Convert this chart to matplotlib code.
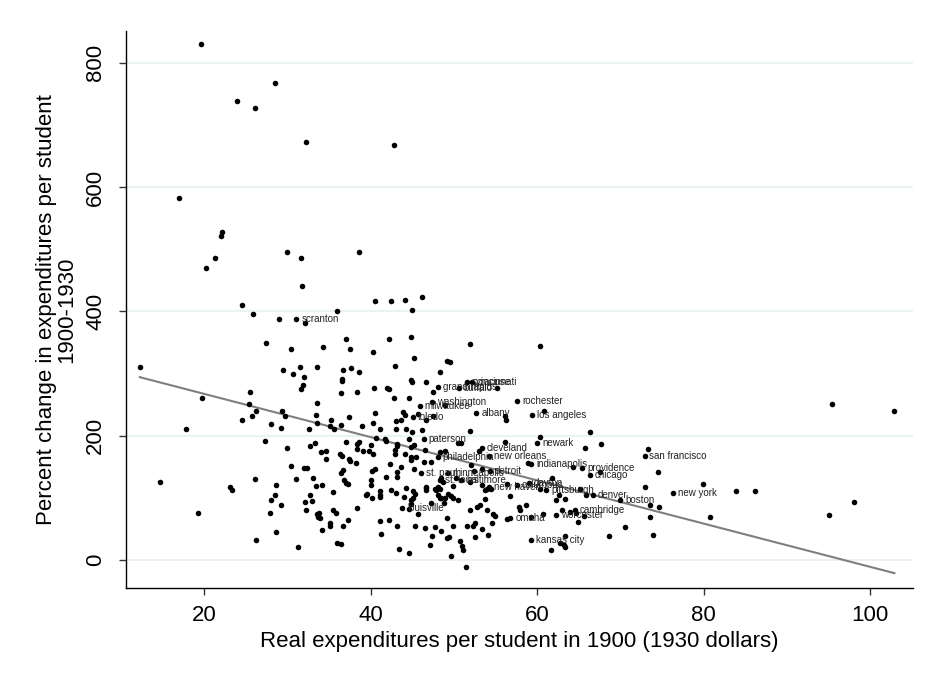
import numpy as np
import matplotlib
matplotlib.use("Agg")
import matplotlib.pyplot as plt

plt.rcParams["font.family"] = ["Liberation Sans", "DejaVu Sans"]

# unlabeled cities: real expenditures 1900 (x) and percent change 1900-1930 (y)
x_vals = [
    19.7, 28.5, 24.0, 26.1, 32.2, 42.8, 17.0, 22.2, 22.0, 21.3, 20.2, 30.0, 31.6, 38.6,
    31.8, 24.6, 25.9, 29.0, 32.1, 27.4, 30.4, 12.3, 29.5, 31.5, 33.6, 30.7, 32.0, 31.9,
    31.7, 25.5, 19.8, 25.4, 26.2, 25.8, 24.6, 29.4, 29.7, 33.6, 33.5, 33.6, 28.1, 29.3,
    32.6, 17.8, 27.3, 30.0, 32.7, 33.3, 30.5, 32.0, 32.4, 14.7, 26.1, 31.1, 33.1, 33.4,
    23.1, 23.4, 28.7, 28.5, 28.1, 29.3, 32.7, 33.0, 32.1, 32.3, 33.6, 33.7, 19.3, 27.9,
    28.7, 26.3, 31.3,
    36.0, 40.5, 42.4, 44.1, 46.2, 45.0, 37.0, 42.2, 44.8, 34.3, 37.5, 40.3, 45.2, 42.9,
    36.7, 37.7, 38.6, 48.3, 49.2, 36.6, 36.6, 44.9, 45.0, 46.6, 36.4, 38.4, 40.4, 42.0,
    42.2, 47.5, 42.8, 44.6, 48.9, 37.4, 40.5, 43.9, 44.1, 47.5, 35.2,
    45.7, 46.6, 35.1, 35.6, 36.4, 39.0, 40.3, 41.1, 43.0, 43.1, 43.6, 44.3, 45.0, 46.2,
    34.0, 34.6, 34.7, 37.0, 38.6, 38.4, 38.4, 39.1, 39.8, 40.0, 40.3, 40.6, 41.7, 41.8,
    43.2, 43.2, 42.9, 42.9, 44.1, 44.6, 44.9, 45.2, 46.5, 44.8, 44.9, 45.5, 46.4, 47.2,
    48.3, 48.9, 37.4, 37.5, 36.3, 36.6, 38.2, 42.3, 36.4, 36.7, 40.2, 40.5, 43.2, 43.2,
    43.7, 45.2, 36.8, 37.0, 37.3, 40.1, 40.0, 41.8, 34.2, 35.5, 39.4, 39.6, 41.1, 41.1,
    41.1, 40.2, 42.5, 43.1, 44.3, 44.0, 45.1, 45.3, 44.8, 45.1, 44.9, 46.6, 46.6, 46.7,
    47.7, 48.1, 47.8, 48.5, 48.8, 47.2, 33.8, 33.9, 35.5, 35.8, 35.1, 35.1, 38.4, 37.3,
    36.7, 34.2, 41.1, 42.2, 43.2, 41.2, 44.6, 45.7, 45.3, 46.5, 47.7, 47.4, 48.5, 47.1,
    49.2, 36.0, 36.4, 43.4, 44.6, 49.2,
    51.9, 60.4, 49.5, 55.2, 60.8,
    56.2, 56.3, 52.0, 66.3, 60.4, 65.8, 56.1, 53.0, 50.5, 50.9, 58.9, 64.3, 67.7, 67.6,
    52.1, 52.4, 53.4, 48.5, 48.7, 50.3, 52.0, 53.4, 53.7, 54.0, 54.5, 56.4, 61.8, 60.4,
    56.8, 53.7, 52.8, 53.1, 52.0, 54.0, 54.7, 54.9, 54.6, 57.8, 57.9, 58.7, 56.4, 59.3,
    60.7, 62.3, 62.6, 63.4, 63.0, 64.0, 64.7, 65.1, 65.9, 65.6, 64.9, 49.9, 49.4, 50.8,
    51.0, 51.1, 49.7, 51.5, 51.6, 52.3, 52.6, 53.4, 52.5, 54.1, 63.4, 62.8, 63.2, 63.3,
    61.7, 48.1, 48.3, 48.9, 49.3, 49.7, 49.9, 50.5, 49.9, 48.4,
    95.4, 102.9, 73.3, 74.5, 72.9, 79.9, 83.9, 86.1, 73.5, 74.6, 73.6, 80.7, 98.0, 95.1,
    70.5, 68.6, 73.9,
]
y_vals = [
    830, 768, 739, 727, 673, 668, 583, 528, 522, 486, 470, 495, 486, 495,
    441, 411, 396, 387, 382, 349, 340, 311, 306, 311, 311, 299, 295, 281,
    275, 271, 260, 251, 240, 232, 225, 240, 231, 252, 233, 221, 219, 212,
    211, 211, 192, 181, 183, 188, 151, 148, 148, 126, 131, 130, 132, 119,
    117, 112, 120, 104, 97, 89, 104, 95, 93, 80, 74, 69, 75, 76,
    45, 32, 21,
    401, 416, 416, 419, 423, 402, 356, 356, 358, 343, 340, 335, 325, 312,
    305, 309, 302, 303, 320, 291, 288, 290, 287, 287, 268, 270, 276, 277,
    275, 270, 260, 261, 250, 230, 236, 238, 233, 231, 226,
    235, 225, 216, 210, 218, 216, 220, 211, 224, 211, 225, 211, 206, 209,
    173, 176, 162, 190, 190, 186, 179, 176, 176, 185, 170, 196, 195, 191,
    187, 184, 177, 170, 170, 194, 182, 185, 177, 165, 161, 165, 157, 157,
    173, 175, 163, 160, 170, 168, 156, 154, 140, 145, 144, 147, 141, 134,
    150, 147, 129, 124, 123, 128, 121, 133, 120, 110, 105, 107, 111, 104,
    101, 100, 112, 108, 116, 101, 111, 107, 96, 100, 90, 116, 112, 118,
    114, 117, 112, 99, 91, 92, 76, 68, 80, 75, 60, 55, 83, 65,
    55, 49, 63, 65, 55, 42, 82, 74, 55, 51, 53, 39, 47, 24,
    36, 28, 25, 18, 11, 67,
    348, 345, 319, 277, 239,
    231, 226, 208, 206, 198, 180, 190, 175, 188, 188, 156, 150, 187, 141,
    153, 144, 146, 132, 126, 132, 126, 120, 112, 114, 115, 123, 132, 114,
    103, 98, 85, 89, 80, 80, 74, 71, 60, 85, 81, 88, 66, 70,
    74, 96, 104, 98, 81, 77, 76, 114, 104, 71, 61, 54, 37, 31,
    23, 16, 7, -11, 54, 54, 60, 50, 37, 40, 39, 27, 24, 21,
    16, 105, 100, 99, 106, 103, 99, 97, 119, 115,
    251, 239, 178, 142, 117, 122, 111, 111, 88, 85, 69, 69, 94, 73,
    53, 38, 40,
]

# labeled cities
city_names = ["scranton", "syracuse", "cincinnati", "buffalo", "grand rapids",
              "washington", "milwaukee", "rochester", "albany", "los angeles",
              "toledo", "paterson", "newark", "cleveland", "philadelphia",
              "new orleans", "indianapolis", "providence", "chicago", "san francisco",
              "st. paul", "minneapolis", "detroit", "st. louis", "baltimore",
              "new haven", "dayton", "columbus", "pittsburgh", "denver",
              "boston", "new york", "cambridge", "worcester", "omaha",
              "kansas city", "louisville"]
city_x = [31.1, 51.6, 52.2, 50.6, 48.1,
          47.4, 45.9, 57.6, 52.7, 59.4,
          45.1, 46.4, 60.0, 53.4, 48.1,
          54.2, 59.3, 65.4, 66.3, 72.9,
          46.1, 49.3, 54.3, 48.3, 50.9,
          54.2, 59.0, 57.6, 61.1, 66.7,
          70.0, 76.3, 64.5, 62.3, 56.8,
          59.3, 43.8]
city_y = [388, 287, 287, 276, 279,
          254, 248, 256, 237, 234,
          230, 195, 189, 180, 165,
          167, 154, 148, 137, 168,
          140, 140, 144, 128, 128,
          118, 124, 120, 112, 105,
          96, 108, 81, 73, 67,
          32, 83]

# fitted line
fit_intercept = 337.0
fit_slope = -3.48

fig = plt.figure(figsize=(9.26, 6.79), dpi=100)
ax = fig.add_axes([0.1357, 0.134, 0.85, 0.8203])

ax.scatter(x_vals, y_vals, s=16, color="black", linewidths=0, zorder=3)
ax.scatter(city_x, city_y, s=16, color="black", linewidths=0, zorder=3)
for name, cx, cy in zip(city_names, city_x, city_y):
    ax.annotate(name, (cx, cy), xytext=(3.5, 0), textcoords="offset points",
                ha="left", va="center", fontsize=7, color="#222222", zorder=4)

all_x = np.array(x_vals + city_x)
line_x = np.array([all_x.min(), all_x.max()])
ax.plot(line_x, fit_intercept + fit_slope * line_x, color="#7f7f7f", lw=1.5, zorder=2)

ax.set_xlim(10.6, 105.1)
ax.set_ylim(-45, 851)
ax.set_xticks([20, 40, 60, 80, 100])
ax.set_yticks([0, 200, 400, 600, 800])
ax.yaxis.grid(True, color="#eaf2f3", lw=1.5)
ax.set_axisbelow(True)
for s in ["top", "right"]:
    ax.spines[s].set_visible(False)
ax.spines["left"].set_linewidth(1.0)
ax.spines["bottom"].set_linewidth(1.0)
ax.tick_params(axis="both", labelsize=16, length=5, width=1, color="#333333")
ax.tick_params(axis="x", pad=7)
ax.tick_params(axis="y", pad=9)
for lab in ax.get_yticklabels():
    lab.set_rotation(90)
    lab.set_va("center")

ax.set_xlabel("Real expenditures per student in 1900 (1930 dollars)", fontsize=16, labelpad=4)
ax.set_ylabel("Percent change in expenditures per student\n1900-1930", fontsize=16,
              linespacing=0.95)
ax.yaxis.set_label_coords(-0.062, 0.5)

fig.savefig("out.png", dpi=100)
